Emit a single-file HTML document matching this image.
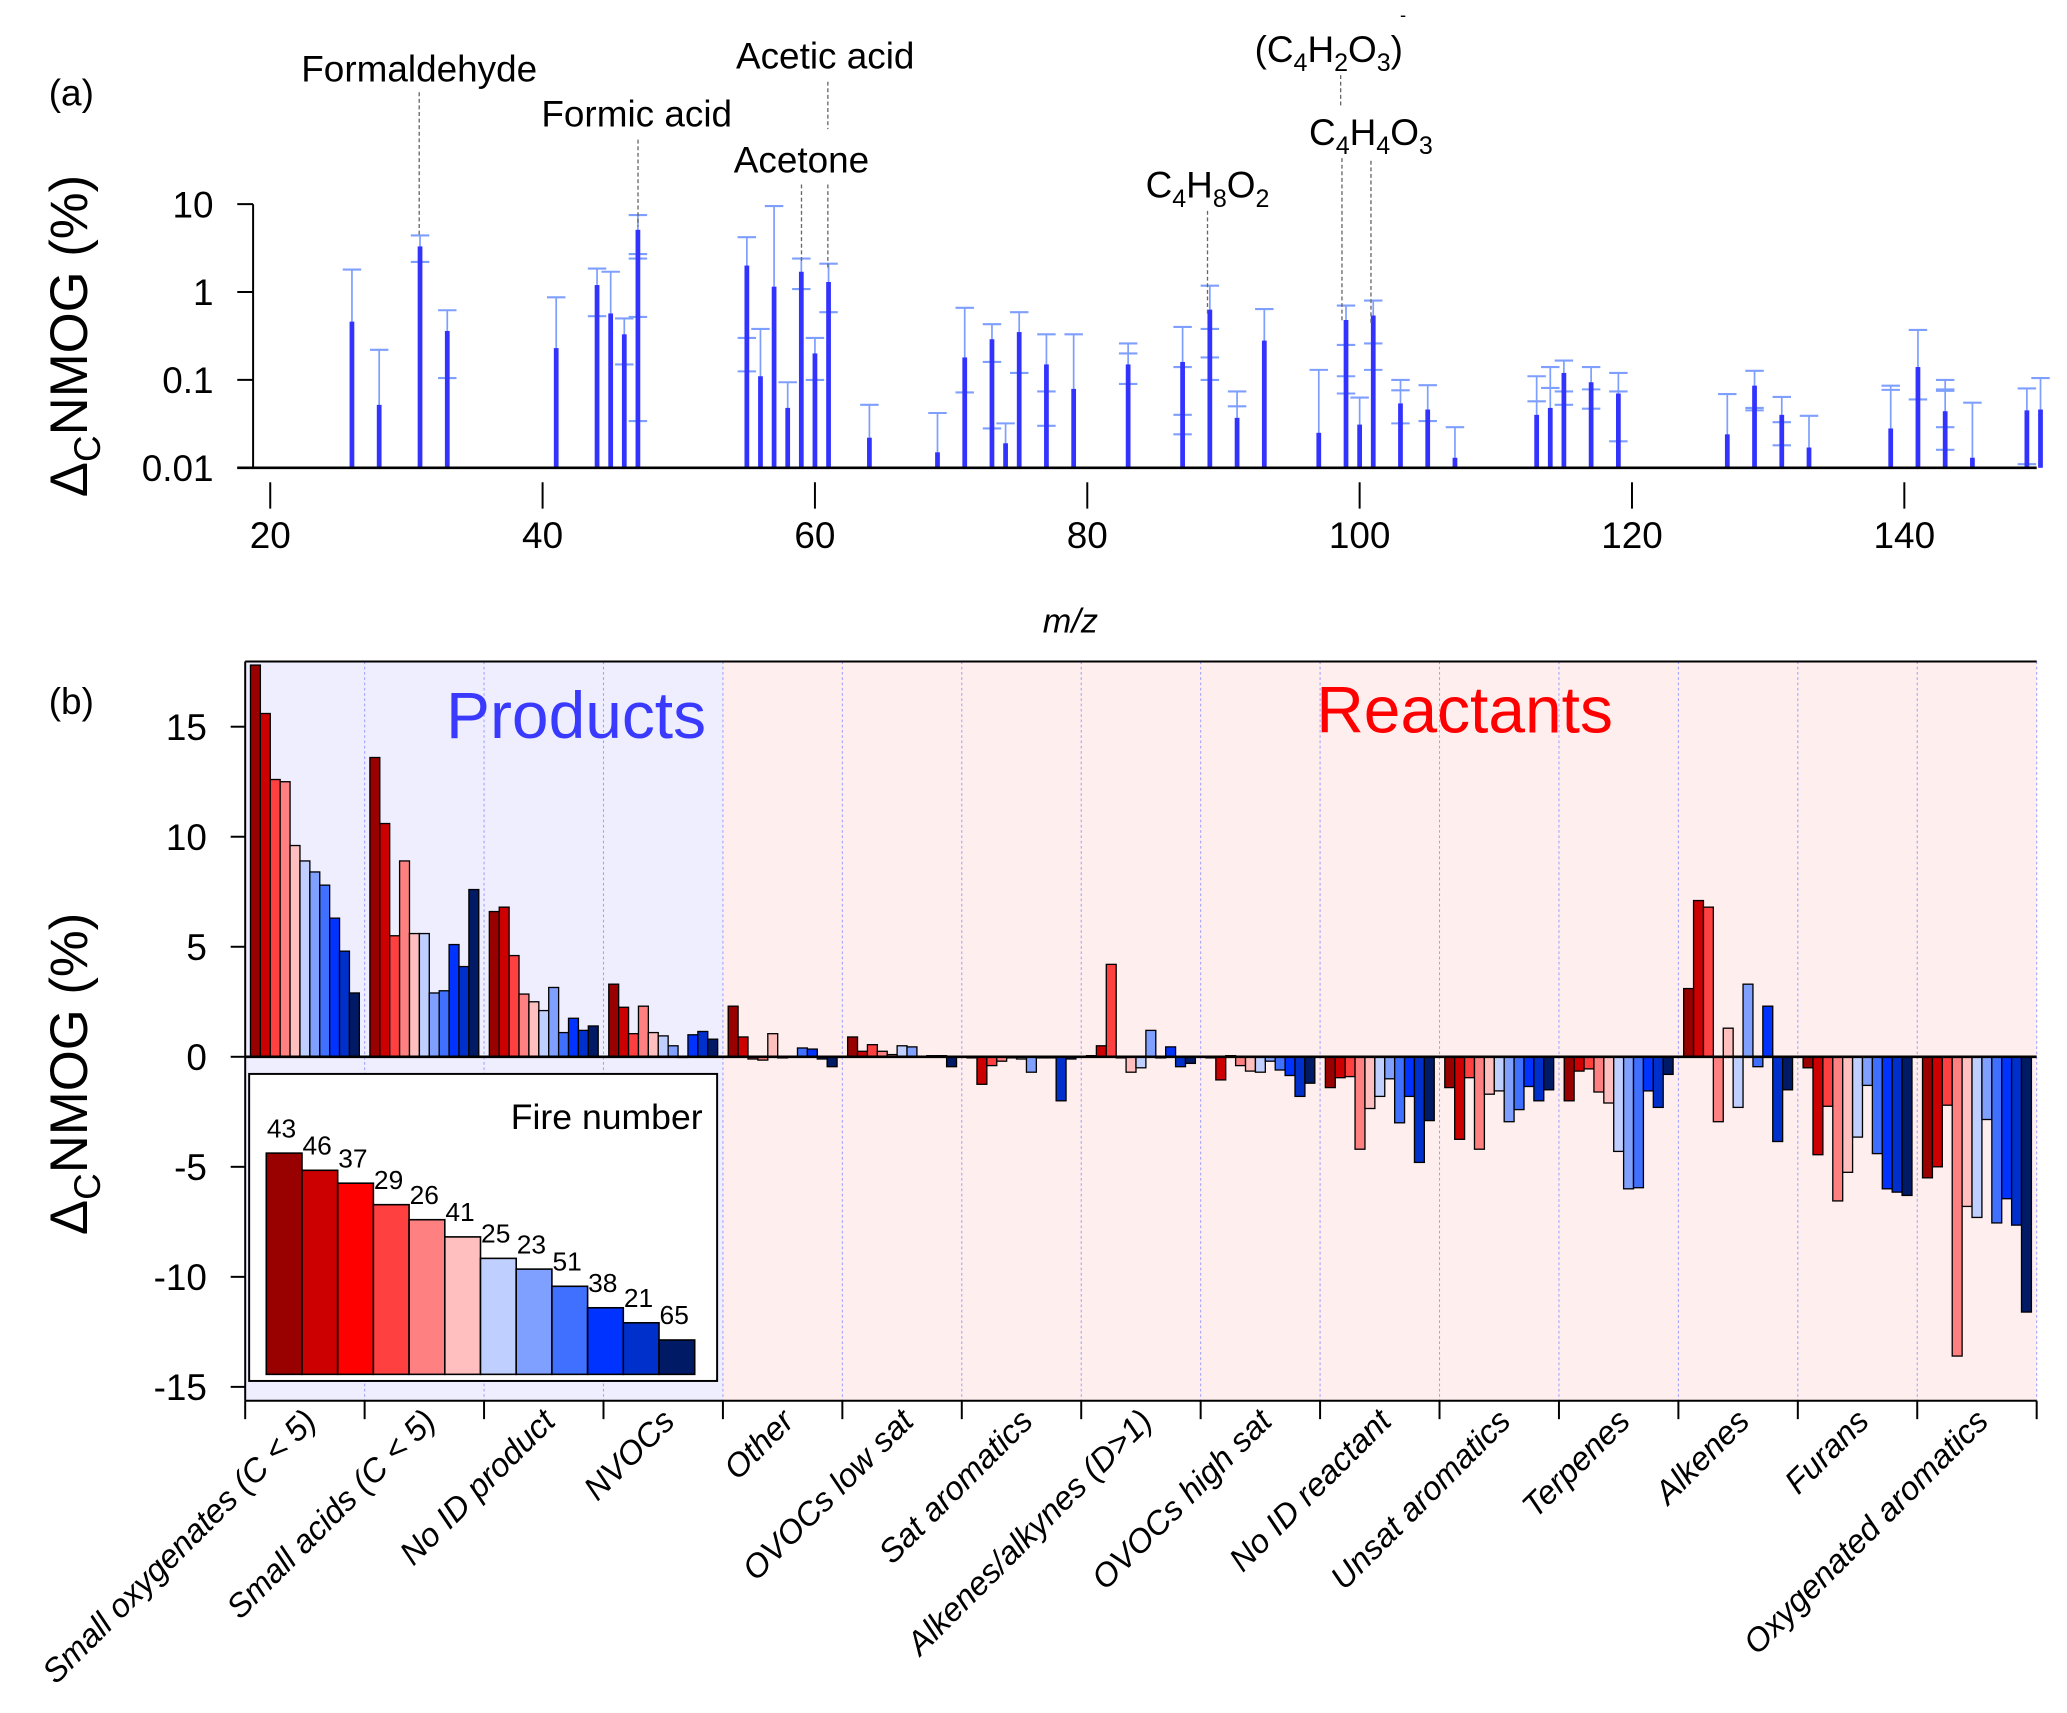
<!DOCTYPE html>
<html><head><meta charset="utf-8"><style>
html,body{margin:0;padding:0;background:#fff;}
svg{display:block;font-family:"Liberation Sans",sans-serif;}
</style></head><body>
<svg id="fig" xmlns="http://www.w3.org/2000/svg" width="2067" height="1713" viewBox="0 0 1568 1300" preserveAspectRatio="none">
<g id="pa"></g>
<g id="pb"></g>
</svg>
<script>
// ---------- Panel (a) data ----------
const mzValues = [26,28,31,33,41,44,45,46,47,55,56,57,58,59,60,61,64,69,71,73,74,75,77,79,83,87,89,91,93,97,99,100,101,103,105,107,113,114,115,117,119,127,129,131,133,139,141,143,145,149,150];
const peakValues = [0.46,0.052,3.3,0.36,0.23,1.2,0.57,0.33,5.1,2.0,0.11,1.15,0.048,1.7,0.2,1.3,0.022,0.015,0.18,0.29,0.019,0.35,0.15,0.079,0.15,0.16,0.63,0.037,0.28,0.025,0.48,0.031,0.54,0.054,0.046,0.013,0.04,0.048,0.12,0.094,0.07,0.024,0.086,0.04,0.017,0.028,0.14,0.044,0.013,0.045,0.046];
const errTop = [1.8,0.22,4.4,0.62,0.87,1.85,1.7,0.5,7.5,4.2,0.38,9.5,0.094,2.4,0.3,2.1,0.052,0.042,0.66,0.43,0.032,0.59,0.33,0.33,0.26,0.4,1.18,0.074,0.64,0.13,0.7,0.063,0.8,0.1,0.087,0.029,0.11,0.14,0.166,0.14,0.12,0.069,0.127,0.064,0.039,0.086,0.37,0.1,0.055,0.08,0.105];
const extraCaps = [[],[],[2.2],[0.105],[],[0.53],[],[0.15],[2.7,2.4,0.52,0.034],[0.3,0.125],[],[],[],[1.08],[0.1],[0.59],[],[],[0.072],[0.16,0.028],[],[0.12],[0.074,0.03],[],[0.2,0.09],[0.14,0.04,0.024],[0.38,0.18,0.1],[0.05],[],[],[0.25,0.11,0.07],[],[0.26,0.13],[0.076,0.032],[0.034],[],[0.057],[0.081],[0.074,0.052],[0.078,0.047],[0.074,0.02],[],[0.048,0.045],[0.033,0.018],[],[0.077],[0.06],[0.078,0.075,0.029,0.016],[],[0.011],[]];
const aTicksY = [10,1,0.1,0.01];
const aTickYLabels = ["10","1","0.1","0.01"];
const aTicksX = [20,40,60,80,100,120,140];

// ---------- Panel (b) data ----------
const categories = ["Small oxygenates (C < 5)","Small acids (C < 5)","No ID product","NVOCs","Other","OVOCs low sat","Sat aromatics","Alkenes/alkynes (D>1)","OVOCs high sat","No ID reactant","Unsat aromatics","Terpenes","Alkenes","Furans","Oxygenated aromatics"];
const fireNumbers = ["43","46","37","29","26","41","25","23","51","38","21","65"];
const fireColors = ["#990000","#cc0000","#ff0000","#ff4040","#ff8080","#ffbfbf","#bfcfff","#80a0ff","#4070ff","#0033ff","#0030cc","#001a66"];
const legendHeights = [10.3,9.5,8.9,7.9,7.2,6.4,5.4,4.9,4.1,3.1,2.4,1.6];
const barColorIdx = [0,1,3,4,5,6,7,8,9,10,11];
const catValues = [
 [17.8,15.6,12.6,12.5,9.6,8.9,8.4,7.8,6.3,4.8,2.9],
 [13.6,10.6,5.5,8.9,5.6,5.6,2.9,3.0,5.1,4.1,7.6],
 [6.6,6.8,4.6,2.85,2.5,2.1,3.15,1.1,1.75,1.2,1.4],
 [3.3,2.25,1.05,2.3,1.1,0.95,0.5,0,1.0,1.15,0.8],
 [2.3,0.9,-0.1,-0.15,1.05,-0.05,0.02,0.4,0.35,-0.1,-0.45],
 [0.9,0.25,0.55,0.25,0.1,0.5,0.45,0.02,0.05,0.05,-0.45],
 [-0.05,-1.25,-0.4,-0.2,-0.05,-0.1,-0.7,-0.05,-0.05,-2.0,-0.1],
 [0.05,0.5,4.2,-0.05,-0.7,-0.5,1.2,-0.05,0.45,-0.45,-0.3],
 [-0.05,-1.05,0.05,-0.4,-0.65,-0.7,-0.2,-0.6,-0.85,-1.8,-1.2],
 [-1.4,-0.95,-0.9,-4.2,-2.35,-1.8,-1.0,-3.0,-1.8,-4.8,-2.9],
 [-1.4,-3.75,-0.95,-4.2,-1.7,-1.55,-2.95,-2.4,-1.35,-2.0,-1.5],
 [-2.0,-0.65,-0.55,-1.6,-2.1,-4.3,-6.0,-5.95,-1.55,-2.3,-0.8],
 [3.1,7.1,6.8,-2.95,1.3,-2.3,3.3,-0.45,2.3,-3.85,-1.5],
 [-0.5,-4.45,-2.25,-6.55,-5.25,-3.65,-1.3,-4.4,-6.0,-6.15,-6.3],
 [-5.5,-5.0,-2.2,-13.6,-6.8,-7.3,-2.85,-7.55,-6.45,-7.65,-11.6]
];
const bTicks = [15,10,5,0,-5,-10,-15];

const NS="http://www.w3.org/2000/svg";
function mk(parent,tag,attrs,text){const e=document.createElementNS(NS,tag);for(const k in attrs)e.setAttribute(k,attrs[k]);if(text!==undefined)e.textContent=text;parent.appendChild(e);return e;}

// ---------- Panel (a) ----------
const pa=document.getElementById('pa');
const axL=192, axBase=355, decade=66.7;
function ya(v){return axBase-(Math.log10(v)+2)*decade;}
function xa(m){return 205+(m-20)*10.33;}
let e;
e=mk(pa,'text',{x:37,y:80,'font-size':28},'(a)');

e=mk(pa,'text',{transform:'translate(66,255) rotate(-90)','text-anchor':'middle','font-size':40},'');

e.innerHTML='Δ<tspan font-size="28" dy="10">C</tspan><tspan dy="-10">NMOG (%)</tspan>';
e=mk(pa,'line',{x1:axL,y1:155,x2:axL,y2:axBase,stroke:'#000','stroke-width':1.5});

aTicksY.forEach((t,i)=>{
  const y=ya(t);
  e=mk(pa,'line',{x1:axL-12,y1:y,x2:axL,y2:y,stroke:'#000','stroke-width':1.5});
  
  e=mk(pa,'text',{x:162,y:y+10,'text-anchor':'end','font-size':28},aTickYLabels[i]);
  
});
aTicksX.forEach(t=>{
  const x=xa(t);
  e=mk(pa,'line',{x1:x,y1:366,x2:x,y2:386,stroke:'#000','stroke-width':1.5});
  
  e=mk(pa,'text',{x:x,y:416,'text-anchor':'middle','font-size':28},String(t));
  
});
e=mk(pa,'text',{x:812,y:480,'text-anchor':'middle','font-size':26,'font-style':'italic'},'m/z');

mzValues.forEach((m,i)=>{
  const x=xa(m);
  e=mk(pa,'line',{x1:x,y1:axBase,x2:x,y2:ya(errTop[i]),stroke:'#7f9fff','stroke-width':1.3});
  
  [errTop[i]].concat(extraCaps[i]).forEach(c=>{
    e=mk(pa,'line',{x1:x-7,y1:ya(c),x2:x+7,y2:ya(c),stroke:'#7f9fff','stroke-width':1.6});
    
  });
  e=mk(pa,'rect',{x:x-1.8,y:ya(peakValues[i]),width:3.6,height:axBase-ya(peakValues[i]),fill:'#3333ff'});
  
});
e=mk(pa,'line',{x1:180,y1:axBase,x2:1545,y2:axBase,stroke:'#000','stroke-width':2});

function ann(label,html,tx,ty,lines){
  const t=mk(pa,'text',{x:tx,y:ty,'text-anchor':'middle','font-size':28},'');
  t.innerHTML=html;
  
  lines.forEach(l=>{
    const d=mk(pa,'line',{x1:l[0],y1:l[1],x2:l[0],y2:l[2],stroke:'#666','stroke-width':1,'stroke-dasharray':'3,2'});
    
  });
}
ann('formaldehyde-label','Formaldehyde',318,62,[[318,70,178]]);
ann('formic-acid-label','Formic acid',483,96,[[484,106,172]]);
ann('acetic-acid-label','Acetic acid',626,52,[[628,62,98],[628,140,205]]);
ann('acetone-label','Acetone',608,131,[[608,140,198]]);
ann('c4h8o2-label','C<tspan font-size="19" dy="7">4</tspan><tspan dy="-7">H</tspan><tspan font-size="19" dy="7">8</tspan><tspan dy="-7">O</tspan><tspan font-size="19" dy="7">2</tspan>',916,150,[[916,160,240]]);
ann('c4h2o3-label','(C<tspan font-size="19" dy="7">4</tspan><tspan dy="-7">H</tspan><tspan font-size="19" dy="7">2</tspan><tspan dy="-7">O</tspan><tspan font-size="19" dy="7">3</tspan><tspan dy="-7">)</tspan>',1008,47,[[1017,57,80],[1018,120,245]]);
e=mk(pa,'text',{x:1062,y:16,'font-size':14},'-');
ann('c4h4o3-label','C<tspan font-size="19" dy="7">4</tspan><tspan dy="-7">H</tspan><tspan font-size="19" dy="7">4</tspan><tspan dy="-7">O</tspan><tspan font-size="19" dy="7">3</tspan>',1040,110,[[1040,122,245]]);

// ---------- Panel (b) ----------
const pb=document.getElementById('pb');
const bL=186,bR=1545,bTop=502,bBot=1063,zeroY=802,unit=16.7;
const gW=(bR-bL)/categories.length;
function yb(v){return zeroY-v*unit;}
e=mk(pb,'rect',{x:bL,y:bTop,width:gW*4,height:bBot-bTop,fill:'#eeeeff'});

e=mk(pb,'rect',{x:bL+gW*4,y:bTop,width:bR-bL-gW*4,height:bBot-bTop,fill:'#ffeeee'});

for(let i=1;i<=categories.length;i++){
  e=mk(pb,'line',{x1:bL+gW*i,y1:bTop,x2:bL+gW*i,y2:bBot,stroke:'#a0a0ff','stroke-width':0.8,'stroke-dasharray':'2,2'});
  
}
e=mk(pb,'text',{x:437,y:560,'text-anchor':'middle','font-size':50,fill:'#3a3aff'},'Products');

e=mk(pb,'text',{x:1111,y:556,'text-anchor':'middle','font-size':50,fill:'#ff0000'},'Reactants');

const slot=(gW-8)/11;
catValues.forEach((vals,ci)=>{
  vals.forEach((v,j)=>{
    if(v===null)return;
    const x=bL+ci*gW+4+j*slot;
    const y0=Math.min(yb(v),zeroY),h=Math.abs(yb(v)-zeroY);
    e=mk(pb,'rect',{x:x,y:y0,width:slot,height:Math.max(h,0.5),fill:fireColors[barColorIdx[j]],stroke:'#000','stroke-width':1});
    
    
  });
});
e=mk(pb,'line',{x1:bL,y1:zeroY,x2:bR,y2:zeroY,stroke:'#000','stroke-width':2});

e=mk(pb,'line',{x1:bL,y1:bTop,x2:bR,y2:bTop,stroke:'#000','stroke-width':1.5});

e=mk(pb,'line',{x1:bL,y1:bTop,x2:bL,y2:bBot,stroke:'#000','stroke-width':1.5});

e=mk(pb,'line',{x1:bL,y1:bBot,x2:bR,y2:bBot,stroke:'#000','stroke-width':1.5});

bTicks.forEach(t=>{
  const y=yb(t);
  e=mk(pb,'line',{x1:bL-11,y1:y,x2:bL,y2:y,stroke:'#000','stroke-width':1.5});
  
  e=mk(pb,'text',{x:157,y:y+10,'text-anchor':'end','font-size':28},String(t));
  
});
for(let i=0;i<=categories.length;i++){
  e=mk(pb,'line',{x1:bL+gW*i,y1:bBot,x2:bL+gW*i,y2:bBot+14,stroke:'#000','stroke-width':1.5});
  
}
categories.forEach((c,i)=>{
  const cx=bL+gW*(i+0.5)+10;
  e=mk(pb,'text',{transform:'translate('+cx+',1080) rotate(-45)','text-anchor':'end','font-size':25,'font-style':'italic'},c);
  
});
e=mk(pb,'text',{x:37,y:542,'font-size':28},'(b)');

e=mk(pb,'text',{transform:'translate(66,815) rotate(-90)','text-anchor':'middle','font-size':40},'');
e.innerHTML='Δ<tspan font-size="28" dy="10">C</tspan><tspan dy="-10">NMOG (%)</tspan>';

const lg=mk(pb,'g',{});

e=mk(lg,'rect',{x:189,y:815,width:355,height:233,fill:'#fff',stroke:'#000','stroke-width':1.5});

e=mk(lg,'text',{x:533,y:857,'text-anchor':'end','font-size':27},'Fire number');

const lgX0=202,lgX1=527,lgBase=1043,lgUnit=16.3;
const lw=(lgX1-lgX0)/fireNumbers.length;
fireNumbers.forEach((f,i)=>{
  const x=lgX0+i*lw, top=lgBase-legendHeights[i]*lgUnit;
  e=mk(lg,'rect',{x:x,y:top,width:lw,height:lgBase-top,fill:fireColors[i],stroke:'#000','stroke-width':1.2});
  
  e=mk(lg,'text',{x:x+lw/2-2,y:top-12,'text-anchor':'middle','font-size':20},f);
  
});
</script>
</body></html>
